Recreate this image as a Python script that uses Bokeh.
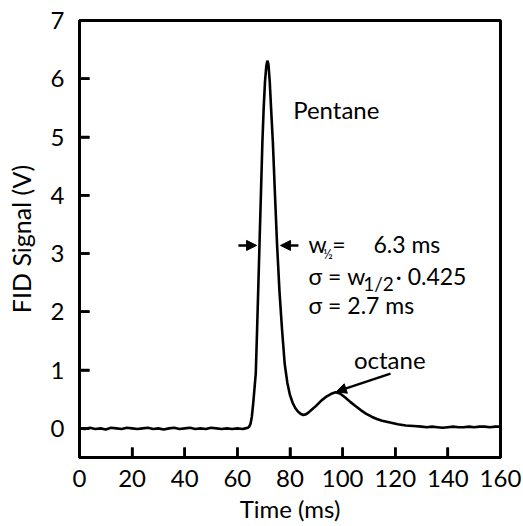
from bokeh.plotting import figure
from bokeh.models import Label, Arrow, NormalHead, FixedTicker, Range1d
from bokeh.embed import file_html
from bokeh.resources import INLINE

# ---- data ----
time_ms = [0, 2, 4, 6, 8, 10, 12, 14, 16, 18, 20, 22, 24, 26, 28, 30, 32, 34, 36, 38,
           40, 42, 44, 46, 48, 50, 52, 54, 56, 58, 60, 62,
           63, 64, 64.5, 65, 65.5, 66, 66.5, 67, 67.5, 68, 68.5, 69, 69.5, 70, 70.5,
           71, 71.4, 71.8, 72.3, 72.8, 73.5, 74.3, 75.1, 76, 77, 78, 79, 80, 81, 82,
           83, 84, 85, 86, 87, 88, 90, 92, 94, 96, 97.3, 99, 101, 103, 105, 107, 109,
           111, 113, 115, 118, 121, 124, 127, 130,
           132, 134, 136, 138, 140, 142, 144, 146, 148, 150, 152, 154, 156, 158, 160]
signal_v = [0.0, -0.01, 0.01, -0.01, 0.0, -0.02, 0.01, 0.0, -0.01, 0.01, 0.0, -0.01,
            0.0, 0.01, -0.01, 0.0, -0.02, 0.0, 0.01, -0.01, 0.0, 0.01, -0.01, 0.0,
            -0.01, 0.01, 0.0, -0.01, 0.0, -0.01, 0.0, -0.01,
            0.0, 0.01, 0.03, 0.08, 0.2, 0.42, 0.68, 0.95, 1.7, 2.5, 3.3, 4.1, 4.9, 5.5, 5.95,
            6.22, 6.31, 6.25, 5.95, 5.5, 4.9, 4.0, 3.14, 2.35, 1.68, 1.1, 0.78, 0.57, 0.44, 0.35,
            0.29, 0.25, 0.23, 0.24, 0.27, 0.31, 0.39, 0.48, 0.55, 0.6, 0.62, 0.6, 0.53, 0.45, 0.38, 0.31, 0.25,
            0.2, 0.16, 0.13, 0.1, 0.07, 0.05, 0.04, 0.03,
            0.02, 0.03, 0.02, 0.01, 0.02, 0.03, 0.02, 0.02, 0.03, 0.02, 0.03, 0.03, 0.02, 0.03, 0.03]
x_ticks = [0, 20, 40, 60, 80, 100, 120, 140, 160]
y_ticks = [0, 1, 2, 3, 4, 5, 6, 7]
x_min, x_max = 0, 160
y_min, y_max = -0.5, 7

FONT = "Lato"
W, H = 523, 526
BL, BR, BT, BB = 79, 23, 20, 69
TICK_PX = 10

p = figure(width=W, height=H, output_backend="svg", toolbar_location=None,
           x_range=Range1d(x_min, x_max), y_range=Range1d(y_min, y_max),
           min_border_left=BL, min_border_right=BR, min_border_top=BT, min_border_bottom=BB)
p.background_fill_color = "white"
p.border_fill_color = "white"
p.outline_line_color = "black"
p.outline_line_width = 3
p.xgrid.visible = False
p.ygrid.visible = False

for ax, ticks in ((p.xaxis, x_ticks), (p.yaxis, y_ticks)):
    ax.ticker = FixedTicker(ticks=ticks)
    ax.axis_line_color = "black"
    ax.axis_line_width = 3
    ax.major_tick_in = TICK_PX
    ax.major_tick_out = 0
    ax.major_tick_line_color = "black"
    ax.major_tick_line_width = 2.5
    ax.minor_tick_line_color = None
    ax.major_label_text_font = FONT
    ax.major_label_text_font_size = "24px"
    ax.major_label_text_color = "black"
    ax.axis_label_text_font = FONT
    ax.axis_label_text_font_style = "normal"
    ax.axis_label_text_color = "black"

p.xaxis.axis_label = "Time (ms)"
p.xaxis.axis_label_text_font_size = "24px"
p.xaxis.major_label_standoff = 12
p.xaxis.axis_label_standoff = 4
p.xaxis.axis_label_text_line_height = 1.0

p.yaxis.axis_label = "FID Signal (V)"
p.yaxis.axis_label_text_font_size = "25px"
p.yaxis.major_label_standoff = 15
p.yaxis.axis_label_standoff = 12
p.yaxis.axis_label_text_line_height = 0.9

# second, glyph-based set of inward ticks at the same positions (pixel length -> data units)
fw = W - BL - BR
fh = H - BT - BB
dy = TICK_PX * (y_max - y_min) / fh
dx = TICK_PX * (x_max - x_min) / fw
p.segment(x0=x_ticks, y0=[y_min] * len(x_ticks), x1=x_ticks, y1=[y_min + dy] * len(x_ticks),
          line_color="black", line_width=2.5)
p.segment(x0=[x_min] * len(y_ticks), y0=y_ticks, x1=[x_min + dx] * len(y_ticks), y1=y_ticks,
          line_color="black", line_width=2.5)

p.line(time_ms, signal_v, line_color="black", line_width=2.6)

def lab(x, y, text, size="23px"):
    p.add_layout(Label(x=x, y=y, text=text, text_font=FONT, text_font_size=size,
                       text_color="black", text_baseline="middle", text_align="left"))

lab(81.2, 5.47, "Pentane", "24px")
lab(87.0, 3.17, "w")
lab(92.6, 3.0, "\u00bd", "13px")
lab(96.1, 3.17, "=")
lab(111.7, 3.17, "6.3 ms")
lab(87.0, 2.62, "\u03c3 = w")
lab(107.8, 2.48, "1/2", "19px")
lab(120.2, 2.62, "\u00b7 0.425")
lab(87.0, 2.11, "\u03c3 = 2.7 ms")
lab(104.3, 1.19, "octane", "24px")

def arrow(x0, y0, x1, y1):
    p.add_layout(Arrow(end=NormalHead(size=10, fill_color="black", line_color="black"),
                       x_start=x0, y_start=y0, x_end=x1, y_end=y1,
                       line_color="black", line_width=2.5))

arrow(60.4, 3.14, 67.3, 3.14)
arrow(83.2, 3.14, 76.4, 3.14)
arrow(118.2, 0.94, 97.6, 0.63)

open("out.html", "w").write(file_html(p, INLINE))
